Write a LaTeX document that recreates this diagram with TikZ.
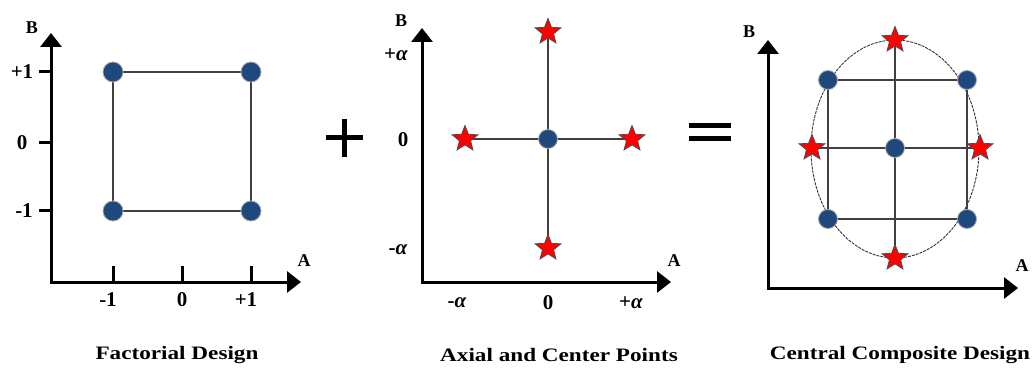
\documentclass[tikz,border=0pt]{standalone}
\usepackage{fontspec}
\setmainfont{Liberation Serif}
\usetikzlibrary{shapes.geometric,arrows.meta,backgrounds}
\definecolor{dotblue}{RGB}{31,73,125}
\begin{document}
\begin{tikzpicture}[x=1pt,y=-1pt,
  axis/.style={line width=3pt,line join=miter,{Triangle[length=14pt,width=21pt]}-{Triangle[length=14pt,width=21pt]}},
  tickmark/.style={line width=3pt},
  link/.style={line width=1.2pt,draw=black!75},
  dot/.style={circle,fill=dotblue,draw=gray!70,line width=0.8pt,minimum size=20pt,inner sep=0pt},
  starpt/.style={star,star points=5,star point ratio=2.3,fill=red,draw=black!70,line width=0.8pt,minimum size=27pt,inner sep=0pt},
  lab/.style={font=\fontsize{21}{23}\selectfont\bfseries,inner sep=0pt},
  axlab/.style={font=\fontsize{18}{22}\selectfont\bfseries,inner sep=0pt},
  title/.style={font=\fontsize{19}{22}\selectfont\bfseries,inner sep=0pt,xscale=1.22},
  sign/.style={line width=5pt}
]
\useasboundingbox (0,0) rectangle (1036,374);

% ---------------- Panel 1: Factorial Design ----------------
\coordinate (Y1) at (51,33);
\coordinate (O1) at (51,282);
\coordinate (X1) at (301,282);
\draw[axis] (Y1) -- (O1) -- (X1);
\foreach \x in {113,182,251} \draw[tickmark] (\x,266) -- (\x,282);
\foreach \y in {72,143,211} \draw[tickmark] (39,\y) -- (51,\y);
\node[axlab] (B1) at (32,28) {B};
\node[axlab] (A1) at (304,261) {A};
\node[lab] (yp1) at (22,72) {+1};
\node[lab] (y01) at (22,143) {0};
\node[lab] (ym1) at (24,211) {-1};
\node[lab] (xm1) at (108,300) {-1};
\node[lab] (x01) at (182,300) {0};
\node[lab] (xp1) at (246,300) {+1};
\node[dot] (f11) at (113,72) {};
\node[dot] (f21) at (251,72) {};
\node[dot] (f12) at (113,211) {};
\node[dot] (f22) at (251,211) {};
\begin{scope}[on background layer]
\draw[link] (f11) -- (f21) -- (f22) -- (f12) -- (f11);
\end{scope}
\node[title] (t1) at (177,355) {Factorial Design};

% plus sign
\coordinate (pl) at (326,138);
\coordinate (pr) at (363,138);
\coordinate (pt) at (344,119);
\coordinate (pb) at (344,157);
\draw[sign] (pl) -- (pr);
\draw[sign] (pt) -- (pb);

% ---------------- Panel 2: Axial and Center Points ----------------
\coordinate (Y2) at (422,28);
\coordinate (O2) at (422,282);
\coordinate (X2) at (671,282);
\draw[axis] (Y2) -- (O2) -- (X2);
\node[axlab] (B2) at (401,21) {B};
\node[axlab] (A2) at (674,261) {A};
\node[lab] (ypa) at (396,55) {+\textit{α}};
\node[lab] (y02) at (403,140) {0};
\node[lab] (yma) at (398,250) {-\textit{α}};
\node[lab] (xma) at (457,303) {-\textit{α}};
\node[lab] (x02) at (548,303) {0};
\node[lab] (xpa) at (631,303) {+\textit{α}};
\node[dot,minimum size=19pt] (c2) at (548,139) {};
\node[starpt] (st2) at (548,32) {};
\node[starpt] (sb2) at (548,248) {};
\node[starpt] (sl2) at (465,139) {};
\node[starpt] (sr2) at (632,139) {};
\begin{scope}[on background layer]
\draw[link] (st2.center) -- (c2.center) -- (sb2.center);
\draw[link] (sl2.center) -- (c2.center) -- (sr2.center);
\end{scope}
\node[title] (t2) at (559,355) {Axial and Center Points};

% equals sign
\coordinate (e1l) at (689,126);
\coordinate (e1r) at (731,126);
\coordinate (e2l) at (689,139);
\coordinate (e2r) at (731,139);
\draw[sign] (e1l) -- (e1r);
\draw[sign] (e2l) -- (e2r);

% ---------------- Panel 3: Central Composite Design ----------------
\coordinate (Y3) at (768,40);
\coordinate (O3) at (768,288);
\coordinate (X3) at (1018,288);
\draw[axis] (Y3) -- (O3) -- (X3);
\node[axlab] (B3) at (749,32) {B};
\node[axlab] (A3) at (1022,266) {A};
\node[dot,minimum size=19pt] (d11) at (828,80) {};
\node[dot,minimum size=19pt] (d21) at (967,80) {};
\node[dot,minimum size=19pt] (d12) at (828,219) {};
\node[dot,minimum size=19pt] (d22) at (967,219) {};
\node[dot,minimum size=19pt] (c3) at (895,148) {};
\node[starpt] (st3) at (895,40) {};
\node[starpt] (sb3) at (895,258) {};
\node[starpt] (sl3) at (812,148) {};
\node[starpt] (sr3) at (980,148) {};
\begin{scope}[on background layer]
\draw[line width=0.9pt,black!80,dash pattern=on 3pt off 1pt] (895,149) ellipse [x radius=84, y radius=109];
\draw[link] (d11.center) -- (d21.center) -- (d22.center) -- (d12.center) -- cycle;
\draw[link] (st3.center) -- (c3.center) -- (sb3.center);
\draw[link] (sl3.center) -- (c3.center) -- (sr3.center);
\end{scope}
\node[title] (t3) at (900,355) {Central Composite Design};
\end{tikzpicture}
\end{document}
